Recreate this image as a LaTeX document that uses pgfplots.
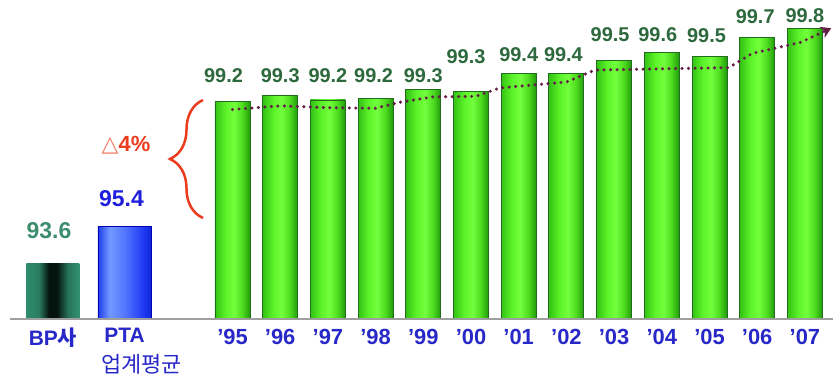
\documentclass[border=0pt]{standalone}
\usepackage{pgfplots}
\pgfplotsset{compat=1.18}
\usepackage{pgfplotstable}
\usepackage{fontspec}
\setmainfont{Liberation Sans}
\newfontfamily\kr{Noto Sans CJK KR}
\newfontfamily\dejavu{DejaVu Sans}
\usetikzlibrary{arrows.meta,decorations.pathreplacing}

\definecolor{lblgreen}{RGB}{45,105,60}
\definecolor{tickblue}{RGB}{40,40,200}
\definecolor{valblue}{RGB}{30,30,220}
\definecolor{bplabel}{RGB}{60,140,110}
\definecolor{gedge}{RGB}{30,110,30}
\definecolor{trend}{RGB}{100,30,70}
\definecolor{bracered}{RGB}{235,60,30}

\pgfdeclarehorizontalshading{gbar}{100bp}{%
  rgb(0bp)=(0.20,0.76,0.08); rgb(25bp)=(0.20,0.76,0.08);
  rgb(40bp)=(0.36,0.95,0.16); rgb(52bp)=(0.45,1.0,0.24);
  rgb(64bp)=(0.30,0.86,0.12); rgb(75bp)=(0.13,0.60,0.04);
  rgb(100bp)=(0.13,0.60,0.04)}
\pgfdeclarehorizontalshading{bpbar}{100bp}{%
  rgb(0bp)=(0.18,0.55,0.43); rgb(25bp)=(0.18,0.55,0.43);
  rgb(37bp)=(0.16,0.48,0.37); rgb(46bp)=(0.02,0.08,0.06);
  rgb(54bp)=(0.02,0.08,0.06); rgb(64bp)=(0.15,0.45,0.35);
  rgb(75bp)=(0.20,0.57,0.45); rgb(100bp)=(0.20,0.57,0.45)}
\pgfdeclarehorizontalshading{ptabar}{100bp}{%
  rgb(0bp)=(0.12,0.24,0.94); rgb(25bp)=(0.12,0.24,0.94);
  rgb(36bp)=(0.45,0.60,1.0); rgb(50bp)=(0.33,0.47,1.0);
  rgb(68bp)=(0.12,0.22,0.95); rgb(75bp)=(0.06,0.15,0.85);
  rgb(100bp)=(0.06,0.15,0.85)}

\pgfplotstableread{
x y lab dy dx
0 99.19 99.2 18 -9
1 99.24 99.3 12 0
2 99.20 99.2 17 0
3 99.21 99.2 16 -2
4 99.29 99.3 6 0
5 99.27 99.3 27 -5
6 99.42 99.4 12 0
7 99.42 99.4 12 -3
8 99.53 99.5 18 -4
9 99.60 99.6 10 -4
10 99.56 99.5 14 -3
11 99.72 99.7 14 -2
12 99.80 99.8 5 0
}\greendata

\begin{document}
\begin{tikzpicture}
\path[use as bounding box] (0,0) rectangle (840bp,378bp);

% left group: BP and PTA average
\begin{axis}[
  at={(0,59bp)}, anchor=south west,
  width=840bp, height=319bp, scale only axis,
  xmin=-0.741, xmax=11.007,
  ymin=90.943, ymax=106.35,
  axis line style={draw=none}, tick style={draw=none},
  major tick length=0pt,
  ytick=\empty, xtick={0,1},
  xticklabels={{BP{\kr 사}},{PTA\\\makebox[0pt][l]{\hspace*{-23bp}\mdseries\fontsize{22}{22}\selectfont\kr 업계평균}}},
  xticklabel style={align=center, text=tickblue, font=\bfseries\fontsize{21}{30}\selectfont, inner sep=0pt, yshift=-9bp},
]
\addplot[ybar, bar width=53bp, bar shift=0pt, draw=none,
  shade, shading=bpbar, shading angle=0,
  nodes near coords, point meta=explicit symbolic,
  every node near coord/.append style={anchor=south, inner sep=0pt, yshift=25bp, xshift=-4bp, text=bplabel, font=\bfseries\fontsize{23}{23}\selectfont}]
  coordinates {(0,93.6) [93.6]};
\addplot[ybar, bar width=53bp, bar shift=0pt, draw=blue!70!black, line width=0.6bp,
  shade, shading=ptabar, shading angle=0,
  nodes near coords, point meta=explicit symbolic,
  every node near coord/.append style={anchor=south, inner sep=0pt, yshift=20bp, xshift=-3bp, text=valblue, font=\bfseries\fontsize{23}{23}\selectfont}]
  coordinates {(1,95.4) [95.4]};
\end{axis}

% right group: yearly values
\begin{axis}[
  at={(0,59bp)}, anchor=south west,
  width=840bp, height=319bp, scale only axis,
  xmin=-4.874, xmax=12.736,
  ymin=97.367, ymax=100.036,
  axis line style={draw=none}, tick style={draw=none},
  major tick length=0pt,
  ytick=\empty, xtick={0,...,12},
  xticklabels={'95,'96,'97,'98,'99,'00,'01,'02,'03,'04,'05,'06,'07},
  xticklabel style={text=tickblue, font=\bfseries\fontsize{22}{22}\selectfont, inner sep=0pt, yshift=-10bp},
]
% one plot per year so that every bar gets its own cylindrical shading
\pgfplotsinvokeforeach{0,...,12}{
\addplot[ybar, bar width=35bp, bar shift=0pt, draw=gedge, line width=0.8bp,
  shade, shading=gbar, shading angle=0,
  x filter/.expression={abs(x-#1)<0.1 ? x : nan},
  nodes near coords, point meta=explicit symbolic,
  visualization depends on={\thisrow{dy} \as \dyv},
  visualization depends on={\thisrow{dx} \as \dxv},
  every node near coord/.append style={anchor=south, inner sep=0pt, yshift={\dyv*1bp}, xshift={\dxv*1bp}, text=lblgreen, font=\bfseries\fontsize{20}{20}\selectfont}]
  table[x=x, y=y, meta=lab] {\greendata};
}
\addplot[trend, line width=3.4bp, line cap=round, dash pattern=on 0bp off 6.5bp,
  -{Stealth[length=10bp, width=12bp]}, mark=none]
  coordinates {(0.0,99.12) (1.0,99.15) (2.0,99.135) (3.0,99.13) (3.5,99.18) (4.2,99.225) (5.1,99.23) (5.6,99.30) (7.0,99.35) (7.6,99.45) (10.4,99.47) (10.9,99.59) (11.9,99.68) (12.55,99.80)};
\end{axis}

% baseline
\draw[gray!75, line width=2bp] (10bp,59bp) -- (833bp,59bp);

% brace and difference label
\draw[bracered, line width=2.5bp, decorate, decoration={brace, amplitude=33bp}]
  (203bp,160bp) -- (203bp,278bp);
\node[text=bracered, font=\bfseries\fontsize{22}{22}\selectfont, inner sep=0pt] at (126bp,233bp)
  {{\dejavu\mdseries\color{bracered!70}△}4\%};
\end{tikzpicture}
\end{document}
